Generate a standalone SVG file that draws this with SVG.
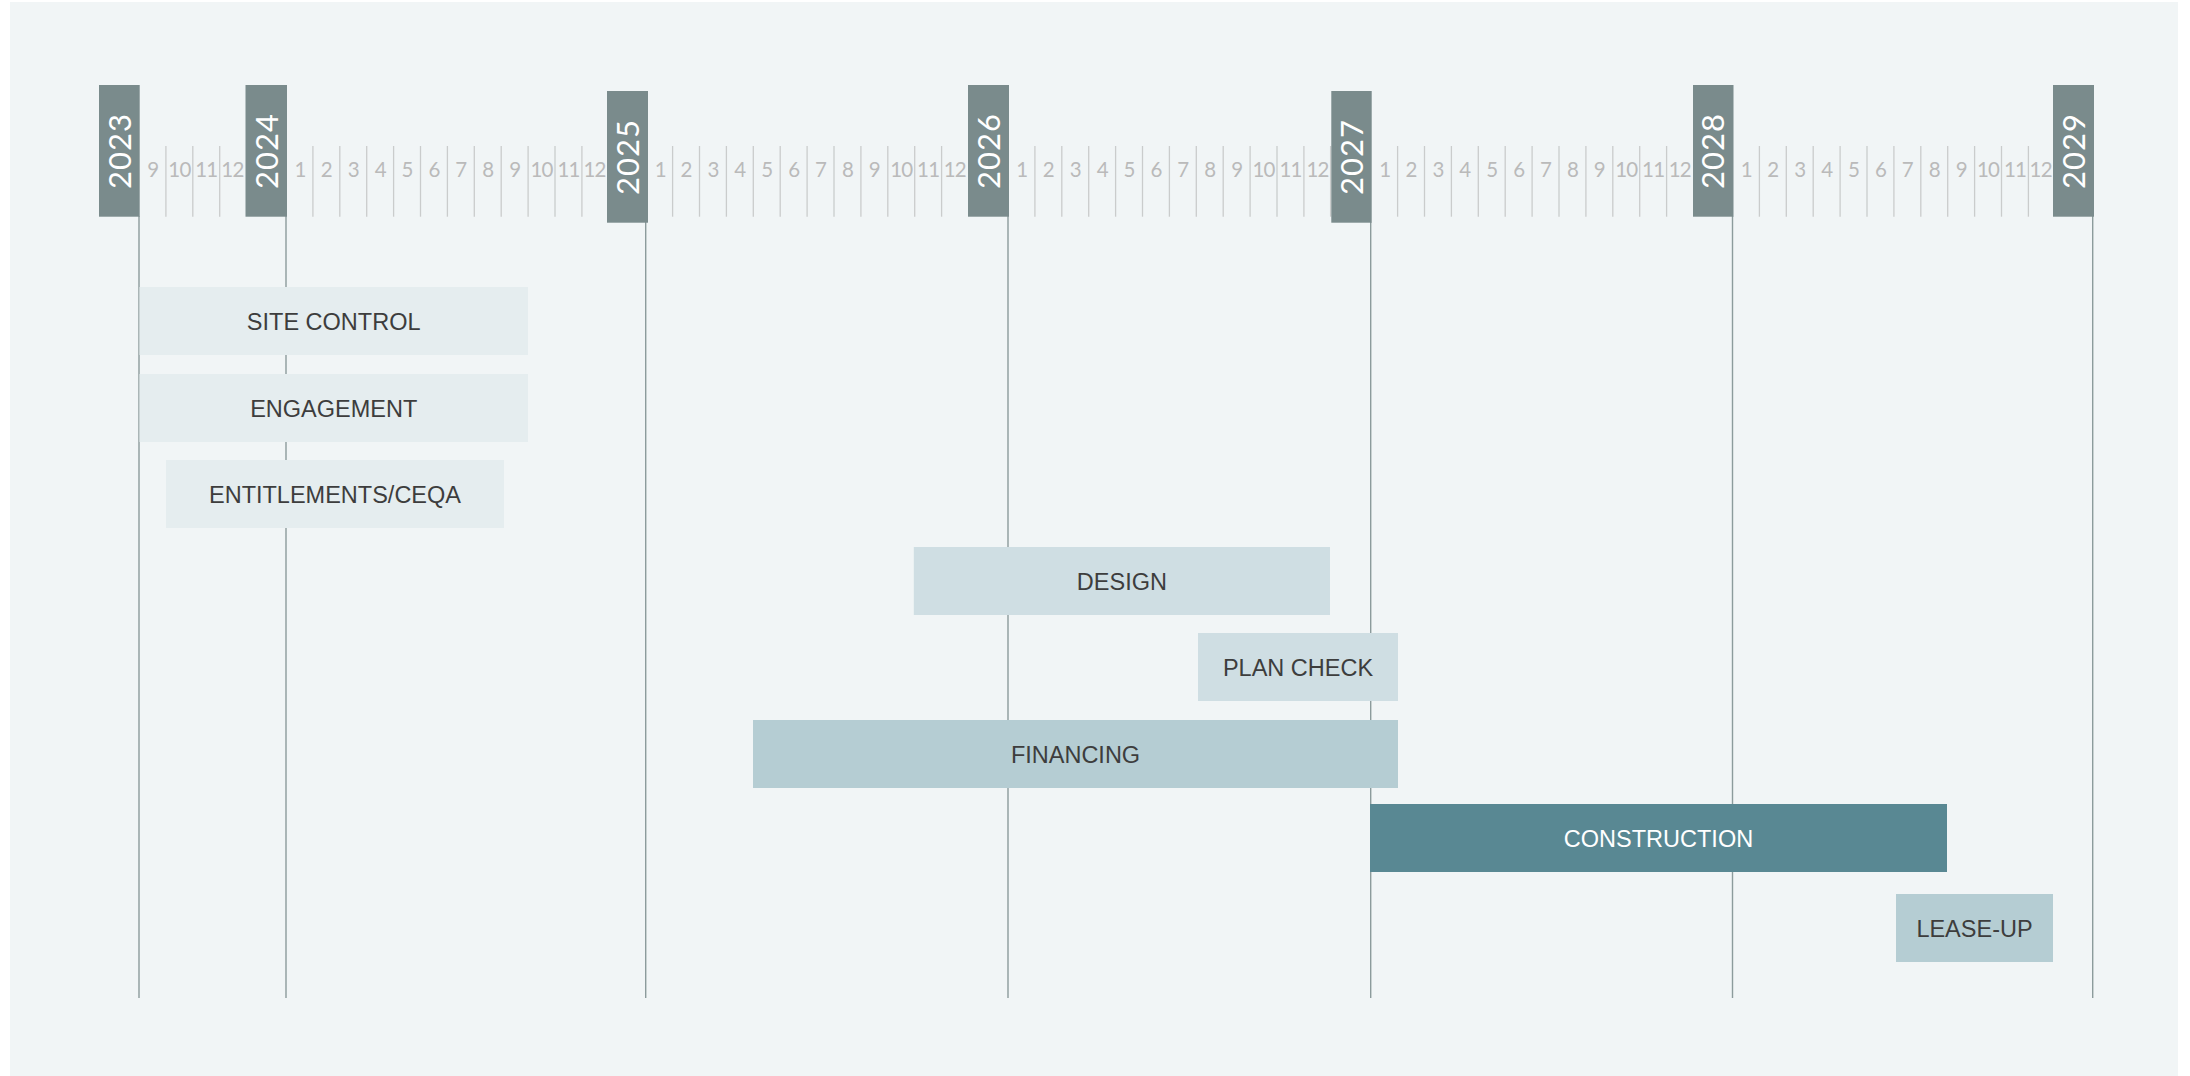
<svg xmlns="http://www.w3.org/2000/svg" width="2190" height="1076" viewBox="0 0 2190 1076">
<style>
.panel{fill:#f1f5f6}
.ybox{fill:#7a8b8c}
.ytxt{font-family:Lato,"Open Sans","DejaVu Sans",sans-serif;font-weight:400;font-size:31px;fill:#ffffff;text-anchor:middle;letter-spacing:1px}
.mtxt{font-family:Lato,"Open Sans","DejaVu Sans",sans-serif;font-weight:400;font-size:20.5px;fill:#bababa;text-anchor:middle;letter-spacing:-0.8px}
.tick{stroke:#cacccc;stroke-width:1.3}
.yline{stroke:#8c9b9c;stroke-width:1.4}
.lbl{font-family:"Liberation Sans",Arial,sans-serif;font-size:23.5px;fill:#3d3d3d;text-anchor:middle}
.c1{fill:#e5edef}
.c2{fill:#cfdee3}
.c3{fill:#b5cdd3}
.c4{fill:#598893}
</style>
<rect width="2190" height="1076" fill="#ffffff"/>
<rect class="panel" x="10" y="2" width="2168" height="1074"/>

<g id="month-ticks">
<line class="tick" x1="165.9" y1="146" x2="165.9" y2="216.7"/>
<line class="tick" x1="192.8" y1="146" x2="192.8" y2="216.7"/>
<line class="tick" x1="219.7" y1="146" x2="219.7" y2="216.7"/>
<line class="tick" x1="312.9" y1="146" x2="312.9" y2="216.7"/>
<line class="tick" x1="339.8" y1="146" x2="339.8" y2="216.7"/>
<line class="tick" x1="366.7" y1="146" x2="366.7" y2="216.7"/>
<line class="tick" x1="393.6" y1="146" x2="393.6" y2="216.7"/>
<line class="tick" x1="420.5" y1="146" x2="420.5" y2="216.7"/>
<line class="tick" x1="447.4" y1="146" x2="447.4" y2="216.7"/>
<line class="tick" x1="474.3" y1="146" x2="474.3" y2="216.7"/>
<line class="tick" x1="501.2" y1="146" x2="501.2" y2="216.7"/>
<line class="tick" x1="528.1" y1="146" x2="528.1" y2="216.7"/>
<line class="tick" x1="555" y1="146" x2="555" y2="216.7"/>
<line class="tick" x1="581.9" y1="146" x2="581.9" y2="216.7"/>
<line class="tick" x1="672.6" y1="146" x2="672.6" y2="216.7"/>
<line class="tick" x1="699.5" y1="146" x2="699.5" y2="216.7"/>
<line class="tick" x1="726.4" y1="146" x2="726.4" y2="216.7"/>
<line class="tick" x1="753.3" y1="146" x2="753.3" y2="216.7"/>
<line class="tick" x1="780.2" y1="146" x2="780.2" y2="216.7"/>
<line class="tick" x1="807.1" y1="146" x2="807.1" y2="216.7"/>
<line class="tick" x1="834" y1="146" x2="834" y2="216.7"/>
<line class="tick" x1="860.9" y1="146" x2="860.9" y2="216.7"/>
<line class="tick" x1="887.8" y1="146" x2="887.8" y2="216.7"/>
<line class="tick" x1="914.7" y1="146" x2="914.7" y2="216.7"/>
<line class="tick" x1="941.6" y1="146" x2="941.6" y2="216.7"/>
<line class="tick" x1="1034.9" y1="146" x2="1034.9" y2="216.7"/>
<line class="tick" x1="1061.8" y1="146" x2="1061.8" y2="216.7"/>
<line class="tick" x1="1088.7" y1="146" x2="1088.7" y2="216.7"/>
<line class="tick" x1="1115.6" y1="146" x2="1115.6" y2="216.7"/>
<line class="tick" x1="1142.5" y1="146" x2="1142.5" y2="216.7"/>
<line class="tick" x1="1169.4" y1="146" x2="1169.4" y2="216.7"/>
<line class="tick" x1="1196.3" y1="146" x2="1196.3" y2="216.7"/>
<line class="tick" x1="1223.2" y1="146" x2="1223.2" y2="216.7"/>
<line class="tick" x1="1250.1" y1="146" x2="1250.1" y2="216.7"/>
<line class="tick" x1="1277" y1="146" x2="1277" y2="216.7"/>
<line class="tick" x1="1303.9" y1="146" x2="1303.9" y2="216.7"/>
<line class="tick" x1="1330.6" y1="146" x2="1330.6" y2="216.7"/>
<line class="tick" x1="1397.6" y1="146" x2="1397.6" y2="216.7"/>
<line class="tick" x1="1424.5" y1="146" x2="1424.5" y2="216.7"/>
<line class="tick" x1="1451.4" y1="146" x2="1451.4" y2="216.7"/>
<line class="tick" x1="1478.3" y1="146" x2="1478.3" y2="216.7"/>
<line class="tick" x1="1505.2" y1="146" x2="1505.2" y2="216.7"/>
<line class="tick" x1="1532.1" y1="146" x2="1532.1" y2="216.7"/>
<line class="tick" x1="1559" y1="146" x2="1559" y2="216.7"/>
<line class="tick" x1="1585.9" y1="146" x2="1585.9" y2="216.7"/>
<line class="tick" x1="1612.8" y1="146" x2="1612.8" y2="216.7"/>
<line class="tick" x1="1639.7" y1="146" x2="1639.7" y2="216.7"/>
<line class="tick" x1="1666.6" y1="146" x2="1666.6" y2="216.7"/>
<line class="tick" x1="1759.4" y1="146" x2="1759.4" y2="216.7"/>
<line class="tick" x1="1786.3" y1="146" x2="1786.3" y2="216.7"/>
<line class="tick" x1="1813.2" y1="146" x2="1813.2" y2="216.7"/>
<line class="tick" x1="1840.1" y1="146" x2="1840.1" y2="216.7"/>
<line class="tick" x1="1867" y1="146" x2="1867" y2="216.7"/>
<line class="tick" x1="1893.9" y1="146" x2="1893.9" y2="216.7"/>
<line class="tick" x1="1920.8" y1="146" x2="1920.8" y2="216.7"/>
<line class="tick" x1="1947.7" y1="146" x2="1947.7" y2="216.7"/>
<line class="tick" x1="1974.6" y1="146" x2="1974.6" y2="216.7"/>
<line class="tick" x1="2001.5" y1="146" x2="2001.5" y2="216.7"/>
<line class="tick" x1="2028.4" y1="146" x2="2028.4" y2="216.7"/>
</g>

<g id="month-labels">
<text class="mtxt" x="152.8" y="177">9</text>
<text class="mtxt" x="179.4" y="177">10</text>
<text class="mtxt" x="206.3" y="177">11</text>
<text class="mtxt" x="232.4" y="177">12</text>
<text class="mtxt" x="300" y="177">1</text>
<text class="mtxt" x="326.4" y="177">2</text>
<text class="mtxt" x="353.3" y="177">3</text>
<text class="mtxt" x="380.2" y="177">4</text>
<text class="mtxt" x="407.1" y="177">5</text>
<text class="mtxt" x="434" y="177">6</text>
<text class="mtxt" x="460.9" y="177">7</text>
<text class="mtxt" x="487.8" y="177">8</text>
<text class="mtxt" x="514.7" y="177">9</text>
<text class="mtxt" x="541.6" y="177">10</text>
<text class="mtxt" x="568.5" y="177">11</text>
<text class="mtxt" x="594.5" y="177">12</text>
<text class="mtxt" x="660.3" y="177">1</text>
<text class="mtxt" x="686.1" y="177">2</text>
<text class="mtxt" x="713" y="177">3</text>
<text class="mtxt" x="739.9" y="177">4</text>
<text class="mtxt" x="766.8" y="177">5</text>
<text class="mtxt" x="793.7" y="177">6</text>
<text class="mtxt" x="820.6" y="177">7</text>
<text class="mtxt" x="847.5" y="177">8</text>
<text class="mtxt" x="874.4" y="177">9</text>
<text class="mtxt" x="901.3" y="177">10</text>
<text class="mtxt" x="928.2" y="177">11</text>
<text class="mtxt" x="954.8" y="177">12</text>
<text class="mtxt" x="1021.7" y="177">1</text>
<text class="mtxt" x="1048.4" y="177">2</text>
<text class="mtxt" x="1075.3" y="177">3</text>
<text class="mtxt" x="1102.2" y="177">4</text>
<text class="mtxt" x="1129.1" y="177">5</text>
<text class="mtxt" x="1156" y="177">6</text>
<text class="mtxt" x="1182.9" y="177">7</text>
<text class="mtxt" x="1209.8" y="177">8</text>
<text class="mtxt" x="1236.7" y="177">9</text>
<text class="mtxt" x="1263.6" y="177">10</text>
<text class="mtxt" x="1290.5" y="177">11</text>
<text class="mtxt" x="1317.6" y="177">12</text>
<text class="mtxt" x="1384.7" y="177">1</text>
<text class="mtxt" x="1411.1" y="177">2</text>
<text class="mtxt" x="1438" y="177">3</text>
<text class="mtxt" x="1464.9" y="177">4</text>
<text class="mtxt" x="1491.8" y="177">5</text>
<text class="mtxt" x="1518.7" y="177">6</text>
<text class="mtxt" x="1545.6" y="177">7</text>
<text class="mtxt" x="1572.5" y="177">8</text>
<text class="mtxt" x="1599.4" y="177">9</text>
<text class="mtxt" x="1626.3" y="177">10</text>
<text class="mtxt" x="1653.2" y="177">11</text>
<text class="mtxt" x="1679.8" y="177">12</text>
<text class="mtxt" x="1746.2" y="177">1</text>
<text class="mtxt" x="1772.9" y="177">2</text>
<text class="mtxt" x="1799.8" y="177">3</text>
<text class="mtxt" x="1826.7" y="177">4</text>
<text class="mtxt" x="1853.6" y="177">5</text>
<text class="mtxt" x="1880.5" y="177">6</text>
<text class="mtxt" x="1907.4" y="177">7</text>
<text class="mtxt" x="1934.3" y="177">8</text>
<text class="mtxt" x="1961.2" y="177">9</text>
<text class="mtxt" x="1988.1" y="177">10</text>
<text class="mtxt" x="2015" y="177">11</text>
<text class="mtxt" x="2040.7" y="177">12</text>
</g>

<g id="connectors">
<line class="yline" x1="139" y1="216" x2="139" y2="998"/>
<line class="yline" x1="286" y1="216" x2="286" y2="998"/>
<line class="yline" x1="645.7" y1="222" x2="645.7" y2="998"/>
<line class="yline" x1="1008" y1="216" x2="1008" y2="998"/>
<line class="yline" x1="1370.7" y1="222" x2="1370.7" y2="998"/>
<line class="yline" x1="1732.5" y1="216" x2="1732.5" y2="998"/>
<line class="yline" x1="2092.7" y1="216" x2="2092.7" y2="998"/>
</g>

<g id="year-2023"><rect class="ybox" x="99" y="85" width="40.7" height="131.7"/><text class="ytxt" transform="translate(119.6,151) rotate(-90)" x="0" y="11">2023</text></g>
<g id="year-2024"><rect class="ybox" x="245.5" y="85" width="41.5" height="131.7"/><text class="ytxt" transform="translate(266.5,151) rotate(-90)" x="0" y="11">2024</text></g>
<g id="year-2025"><rect class="ybox" x="607" y="91" width="41" height="131.7"/><text class="ytxt" transform="translate(627.5,157) rotate(-90)" x="0" y="11">2025</text></g>
<g id="year-2026"><rect class="ybox" x="968" y="85" width="41" height="131.7"/><text class="ytxt" transform="translate(988.5,151) rotate(-90)" x="0" y="11">2026</text></g>
<g id="year-2027"><rect class="ybox" x="1331.3" y="91" width="40.4" height="131.7"/><text class="ytxt" transform="translate(1351.5,157) rotate(-90)" x="0" y="11">2027</text></g>
<g id="year-2028"><rect class="ybox" x="1693" y="85" width="40.5" height="131.7"/><text class="ytxt" transform="translate(1713.2,151) rotate(-90)" x="0" y="11">2028</text></g>
<g id="year-2029"><rect class="ybox" x="2053" y="85" width="41" height="131.7"/><text class="ytxt" transform="translate(2073.5,151) rotate(-90)" x="0" y="11">2029</text></g>

<g id="site-control"><rect class="c1" x="139.5" y="287" width="388.5" height="68"/><text class="lbl" x="333.7" y="329.5">SITE CONTROL</text></g>
<g id="engagement"><rect class="c1" x="139.5" y="374" width="388.5" height="68"/><text class="lbl" x="333.7" y="416.5">ENGAGEMENT</text></g>
<g id="entitlements"><rect class="c1" x="166" y="460" width="338" height="68"/><text class="lbl" x="335" y="502.5">ENTITLEMENTS/CEQA</text></g>
<g id="design"><rect class="c2" x="913.8" y="547" width="416.2" height="68"/><text class="lbl" x="1121.9" y="589.5">DESIGN</text></g>
<g id="plan-check"><rect class="c2" x="1198" y="633" width="200" height="68"/><text class="lbl" x="1298" y="675.5">PLAN CHECK</text></g>
<g id="financing"><rect class="c3" x="753" y="720" width="645" height="68"/><text class="lbl" x="1075.5" y="762.5">FINANCING</text></g>
<g id="construction"><rect class="c4" x="1370" y="804" width="577" height="68"/><text class="lbl" x="1658.5" y="846.5" style="fill:#ffffff">CONSTRUCTION</text></g>
<g id="lease-up"><rect class="c3" x="1896" y="894" width="157" height="68"/><text class="lbl" x="1974.5" y="936.5">LEASE-UP</text></g>
</svg>
